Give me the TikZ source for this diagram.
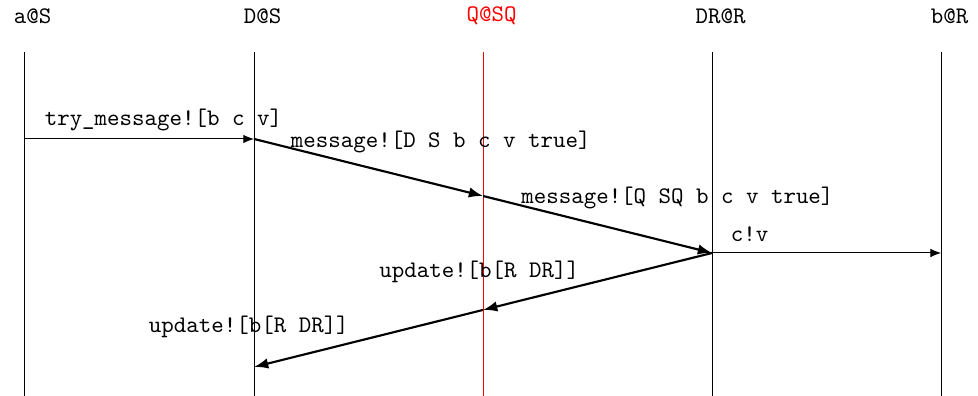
\documentclass[tikz,border=0pt]{standalone}
\usepackage[dvipsnames]{xcolor}
\usetikzlibrary{positioning, arrows.meta}

\begin{document}
\begin{tikzpicture}[font=\ttfamily,
	lifeline/.style={line width=.4pt},
	msg/.style={line width=.4pt, -{Latex[length=4.5pt, width=3.6pt]}},
	bigmsg/.style={line width=.9pt, -{Latex[length=6pt, width=4.4pt]}},
	lbl/.style={inner sep=0pt}]
	\useasboundingbox (0,0) rectangle (14.455,-5.853);
	% tops of the lifelines
	\coordinate (la) at (0.355,-0.77);
	\coordinate (lD) at (3.754,-0.77);
	\coordinate (lQ) at (7.14,-0.77);
	\coordinate (lDR) at (10.525,-0.77);
	\coordinate (lb) at (13.91,-0.77);
	% one row per message
	\coordinate (r1) at (0,-2.054);
	\coordinate (r2) at (0,-2.897);
	\coordinate (r3) at (0,-3.739);
	\coordinate (r4) at (0,-4.581);
	\coordinate (r5) at (0,-5.424);
	\coordinate (bot) at (0,-5.853);
	% headers
	\node[above right=0.534cm and 0.126cm of la, anchor=center] (aS) {a@S};
	\node[above right=0.534cm and 0.126cm of lD, anchor=center] (DS) {D@S};
	\node[above right=0.534cm and 0.126cm of lQ, anchor=center, red] (QSQ) {Q@SQ};
	\node[above right=0.534cm and 0.126cm of lDR, anchor=center] (DRR) {DR@R};
	\node[above right=0.534cm and 0.126cm of lb, anchor=center] (bR) {b@R};
	% lifelines
	\draw[lifeline] (la) -- (la |- bot);
	\draw[lifeline] (lD) -- (lD |- bot);
	\draw[lifeline, red] (lQ) -- (lQ |- bot);
	\draw[lifeline] (lDR) -- (lDR |- bot);
	\draw[lifeline] (lb) -- (lb |- bot);
	% messages
	\draw[msg] (la |- r1) -- (lD |- r1)
		node[lbl, pos=0, anchor=west, xshift=.3cm, yshift=.28cm] (try) {try\_message![b c v]};
	\draw[bigmsg] (lD |- r1) -- (lQ |- r2)
		node[lbl, pos=0, anchor=west, xshift=.53cm, yshift=-.04cm] (m1) {message![D S b c v true]};
	\draw[bigmsg] (lQ |- r2) -- (lDR |- r3)
		node[lbl, pos=0, anchor=west, xshift=.55cm, yshift=-.03cm] (m2) {message![Q SQ b c v true]};
	\draw[msg] (lDR |- r3) -- (lb |- r3)
		node[lbl, pos=0, anchor=west, xshift=.27cm, yshift=.28cm] (cv) {c!v};
	\draw[bigmsg] (lDR |- r3) -- (lQ |- r4)
		node[lbl, pos=0, anchor=east, xshift=-1.95cm, yshift=-.28cm] (u1) {update![b[R DR]]};
	\draw[bigmsg] (lQ |- r4) -- (lD |- r5)
		node[lbl, pos=0, anchor=east, xshift=-1.97cm, yshift=-.25cm] (u2) {update![b[R DR]]};
\end{tikzpicture}
\end{document}
